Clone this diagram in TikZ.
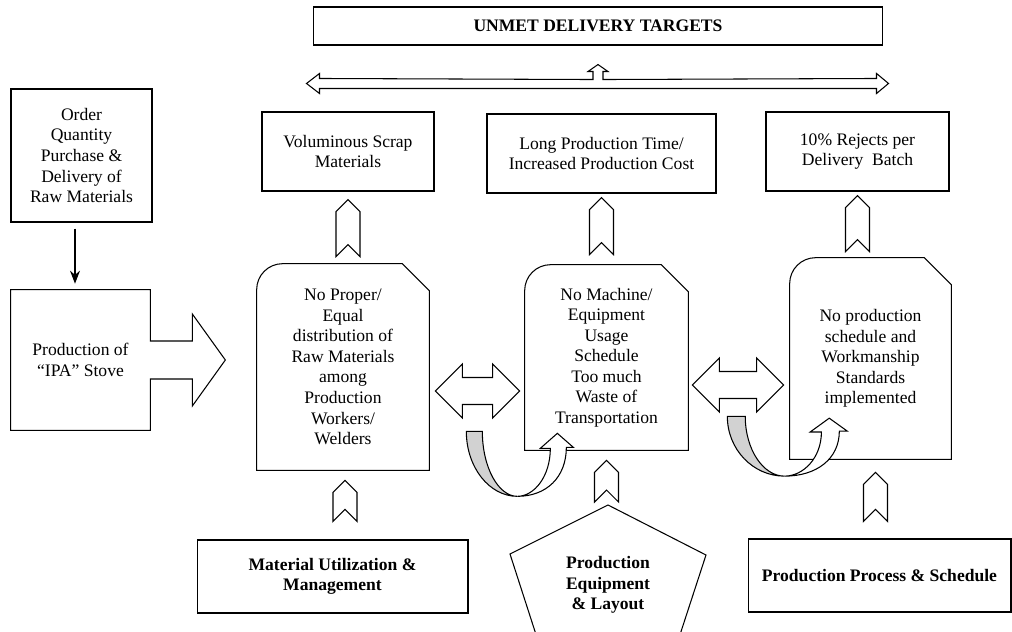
\documentclass[tikz,border=0pt]{standalone}
\usepackage{fontspec}
\setmainfont{Liberation Serif}
\usetikzlibrary{calc,arrows.meta,positioning}

% up chevron: #1 tip, #2 base
\newcommand{\chevup}[2]{%
  \draw[blockarrow] ($(#1 |- #2)+(-12,0)$) -- ($(#1)+(-12,12)$) -- (#1) -- ($(#1)+(12,12)$)
    -- ($(#1 |- #2)+(12,0)$) -- ($(#1 |- #2)+(0,-12)$) -- cycle;}

% left-right block arrow: #1 left tip, #2 right tip
\newcommand{\dblarrow}[2]{%
  \draw[blockarrow] (#1) -- ($(#1)+(27,-27)$) -- ($(#1)+(27,-13.5)$) -- ($(#2)+(-27,-13.5)$)
    -- ($(#2)+(-27,-27)$) -- (#2) -- ($(#2)+(-27,27)$) -- ($(#2)+(-27,13.5)$)
    -- ($(#1)+(27,13.5)$) -- ($(#1)+(27,27)$) -- cycle;}

% one round corner, one snipped corner
\newcommand{\snipoutline}[1]{%
  \draw[outline] (#1.south west) -- ($(#1.north west)+(0,26)$)
    .. controls ($(#1.north west)+(0,11.6)$) and ($(#1.north west)+(11.6,0)$) .. ($(#1.north west)+(26,0)$)
    -- ($(#1.north east)+(-27,0)$) -- ($(#1.north east)+(0,27)$) -- (#1.south east) -- cycle;}

% curved u-turn arrow
\newcommand{\uturn}[2]{%
  \begin{scope}[shift={(#1)}, #2]
    \draw[blockarrow, fill=gray!35] (0,0) -- (16,0) .. controls (16,36) and (32,65) .. (51,65)
      .. controls (23,65) and (0,36) .. (0,0) -- cycle;
    \draw[blockarrow] (51,65) .. controls (68,65) and (84,45) .. (84,17) -- (74,17) -- (91,2)
      -- (107,16) -- (100,16) .. controls (100,46) and (80,65) .. (51,65) -- cycle;
  \end{scope}}

\begin{document}
\begin{tikzpicture}[
    x=0.02cm, y=-0.02cm,
    font=\fontsize{10}{11.7}\selectfont,
    box/.style={rectangle, draw, line width=0.6pt, align=center, inner sep=2pt},
    snipbox/.style={rectangle, align=center, inner sep=2pt},
    boldtext/.style={font=\fontsize{10}{11.7}\selectfont\bfseries},
    outline/.style={draw, line width=0.6pt},
    blockarrow/.style={draw, line width=0.6pt, fill=white},
    arrow/.style={-{Stealth[length=2.6mm,width=2mm]}, line width=0.6pt}
]
\useasboundingbox (0,0) rectangle (1012,632);
\clip (0,0) rectangle (1012,632);

% Goal
\node[box, boldtext, minimum width=11.4cm, minimum height=0.76cm] (unmet) at (598,26) {UNMET DELIVERY TARGETS};

% Input
\node[box, minimum width=2.82cm, minimum height=2.66cm] (order) at (81.5,155.5) {Order\\Quantity\\Purchase \&\\Delivery of\\Raw Materials};
\node[snipbox, minimum width=2.78cm, minimum height=2.8cm] (stove) at (80.5,360) {Production of\\“IPA” Stove};

% Effects
\node[box, minimum width=3.44cm, minimum height=1.58cm] (scrap) at (348,151.5) {Voluminous Scrap\\Materials};
\node[box, minimum width=4.58cm, minimum height=1.58cm] (longtime) at (601.5,153.5) {Long Production Time/\\Increased Production Cost};
\node[box, minimum width=3.66cm, minimum height=1.58cm] (rejects) at (857.5,151.5) {10\% Rejects per\\Delivery~ Batch};

% Causes
\node[snipbox, minimum width=3.44cm, minimum height=4.12cm] (noprop) at (343,367) {No Proper/\\Equal\\distribution of\\Raw Materials\\among\\Production\\Workers/\\Welders};
\node[snipbox, minimum width=3.26cm, minimum height=3.7cm] (nomach) at (606.5,357.5) {No Machine/\\Equipment\\Usage\\Schedule\\Too much\\Waste of\\Transportation};
\node[snipbox, minimum width=3.22cm, minimum height=4.02cm] (nosched) at (870.5,358.5) {No production\\schedule and\\Workmanship\\Standards\\implemented};

% Categories
\node[box, boldtext, minimum width=5.42cm, minimum height=1.46cm] (matbox) at (332.5,576.5) {Material Utilization \&\\Management};
\node[boldtext, align=center] (equip) at (608,585) {Production\\Equipment\\\& Layout};
\node[box, boldtext, minimum width=5.26cm, minimum height=1.46cm] (procbox) at (879.5,575.5) {Production Process \& Schedule};

% Outlines
\draw[outline] (stove.south west) -- (stove.north west) -- (stove.north east) -- ($(stove.east)+(0,-19)$)
  -- ($(stove.east)+(42,-19)$) -- ($(stove.east)+(42,-46)$) -- ($(stove.east)+(75,0)$)
  -- ($(stove.east)+(42,46)$) -- ($(stove.east)+(42,19)$) -- ($(stove.east)+(0,19)$) -- (stove.south east) -- cycle;
\snipoutline{noprop}
\snipoutline{nomach}
\snipoutline{nosched}
\coordinate (eqtop) at ($(equip)+(0,-80)$);
\draw[outline] (eqtop) -- ($(equip)+(98,-30)$) -- ($(equip)+(67,65)$) -- ($(equip)+(-67,65)$) -- ($(equip)+(-98,-31)$) -- cycle;

% Arrows
\draw[arrow] ($(order.south)+(-6.5,6)$) -- ($(stove.north)+(-5.5,-6)$);

\coordinate (tu) at ($(unmet.south)+(0,19)$);
\coordinate (tl) at ($(scrap.north west)+(45,-28)$);
\coordinate (tr) at ($(rejects.north east)+(-61,-28)$);
\draw[blockarrow] (tl) -- ++(13,-10) -- ++(0,5) -- ($(tu)+(-5,15)$) -- ($(tu)+(-5,7)$) -- ($(tu)+(-10,7)$)
  -- (tu) -- ($(tu)+(10,7)$) -- ($(tu)+(5,7)$) -- ($(tu)+(5,15)$) -- ($(tr)+(-12,-5)$) -- ($(tr)+(-12,-10)$)
  -- (tr) -- ($(tr)+(-12,10)$) -- ($(tr)+(-12,5)$) -- ($(tl)+(13,5)$) -- ($(tl)+(13,10)$) -- cycle;

\coordinate (c1t) at ($(scrap.south)+(0,8)$);
\coordinate (c1b) at ($(noprop.north)+(0,-7)$);
\coordinate (c2t) at ($(longtime.south)+(0,4)$);
\coordinate (c2b) at ($(nomach.north)+(0,-10)$);
\coordinate (c3t) at ($(rejects.south)+(0,4)$);
\coordinate (c3b) at ($(nosched.north)+(0,-6)$);
\coordinate (c4t) at ($(noprop.south)+(2,10)$);
\coordinate (c4b) at ($(matbox.north)+(0,-18)$);
\coordinate (c5t) at ($(nomach.south)+(0,10)$);
\coordinate (c5b) at ($(eqtop)+(0,-3)$);
\coordinate (c6t) at ($(nosched.south)+(5,13)$);
\coordinate (c6b) at ($(procbox.north)+(0,-17)$);
\chevup{c1t}{c1b}
\chevup{c2t}{c2b}
\chevup{c3t}{c3b}
\chevup{c4t}{c4b}
\chevup{c5t}{c5b}
\chevup{c6t}{c6b}

\coordinate (d1l) at ($(noprop.east)+(6,24)$);
\coordinate (d1r) at ($(nomach.west)+(-5,33.5)$);
\coordinate (d2l) at ($(nomach.east)+(4,27.5)$);
\coordinate (d2r) at ($(nosched.west)+(-6,26.5)$);
\dblarrow{d1l}{d1r}
\dblarrow{d2l}{d2r}

\coordinate (u1) at ($(noprop.south east)+(37,-39)$);
\coordinate (u2) at ($(nomach.south east)+(39,-34)$);
\uturn{u1}{}
\uturn{u2}{xscale=1.12, yscale=0.92}

\end{tikzpicture}
\end{document}
